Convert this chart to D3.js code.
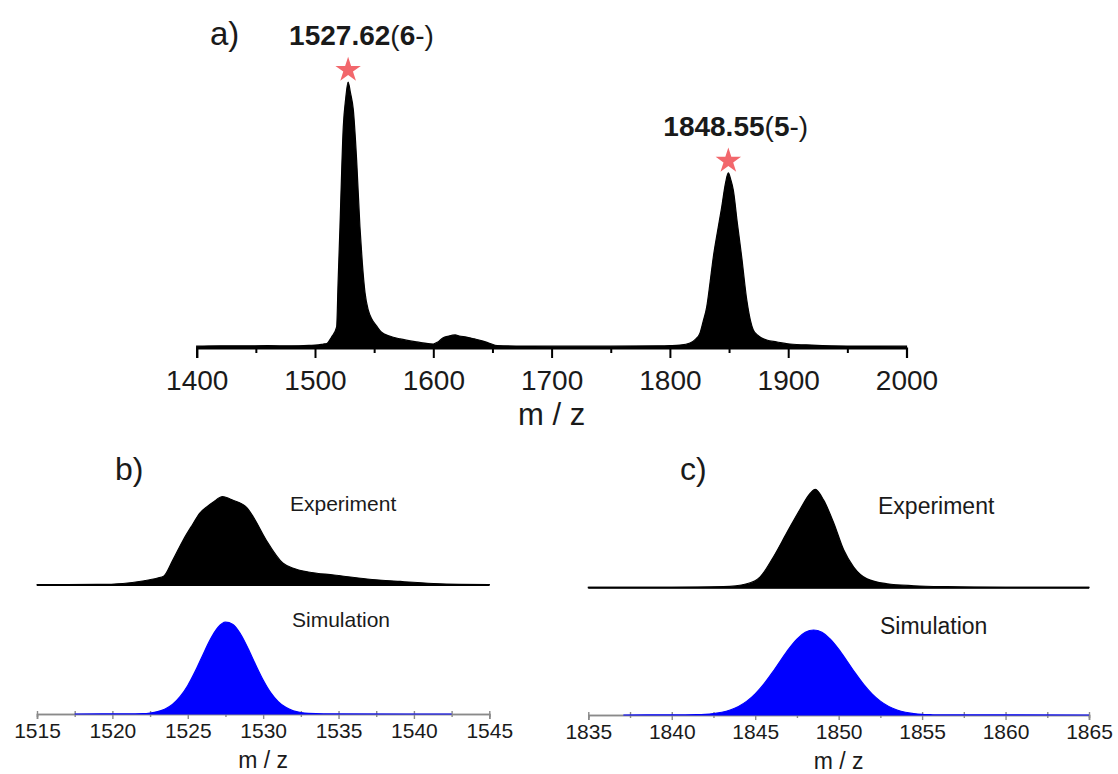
<!DOCTYPE html>
<html>
<head>
<meta charset="utf-8">
<script src="https://cdn.jsdelivr.net/npm/d3@7"></script>
<style>
  body { margin: 0; background: #fff; }
  svg text { font-family: "Liberation Sans", Arial, sans-serif; fill: #1a1a1a; }
</style>
</head>
<body>
<div id="chart"></div>
<script>
// a) full spectrum, [m/z, relative intensity %]
var fullSpec = [
  [1400,0.7],[1420,0.8],[1440,0.8],[1460,0.9],[1480,0.8],[1495,1.0],[1503,1.2],[1507,1.5],
  [1510,1.7],[1514,4.1],[1518.3,7.9],[1519.5,24.4],[1521.1,45.5],[1523.9,83.1],[1526,94],
  [1528,100],[1530,95.9],[1532.4,89.5],[1535.2,70.7],[1538,45.5],[1540,32],[1542.3,20.7],
  [1545,14.3],[1548,10.9],[1552,8.3],[1556,6.0],[1563,4.5],[1572,3.4],[1586,2.3],[1600,1.5],
  [1604,2.3],[1608,3.8],[1613,4.5],[1618.5,4.9],[1622,4.5],[1628,4.1],[1635,3.4],[1642,2.6],
  [1648,1.7],[1654,0.9],[1670,0.75],[1700,0.7],[1750,0.7],[1790,0.8],[1800,0.9],[1808.5,1.1],
  [1817,1.9],[1822,3.4],[1825.4,5.6],[1828,9.8],[1831.1,15.4],[1834,24.8],[1836.7,34.2],
  [1840,43.2],[1843.8,53.0],[1847,62],[1849.4,65.8],[1851.5,63.2],[1853.6,59.4],[1857,47],
  [1860.7,34.2],[1865,18],[1868,10.5],[1870.5,6.8],[1875,4.5],[1881.8,3.0],[1890,2.3],
  [1901.5,1.5],[1920,1.1],[1950,0.75],[2000,0.7]
];
var peakMz = [1528, 1849.4];
var peakInt = [100, 65.8];
var peakMass = ["1527.62", "1848.55"];
var peakCharge = ["6", "5"];
var fullTicks = [1400, 1500, 1600, 1700, 1800, 1900, 2000];
var fullMinor = [1450, 1550, 1650, 1750, 1850, 1950];

// b) 6- ion
var expB = [
  [1515,0.3],[1517,0.4],[1519,0.6],[1520.7,1.7],[1522,4.5],[1523,7.9],[1523.4,10],[1524,28],
  [1524.7,51],[1525.3,68],[1525.8,81.5],[1526.3,89],[1526.7,94],[1527.3,100],[1528,96],
  [1528.9,88],[1529.35,77],[1530.2,51],[1531.3,25],[1532,19],[1533,14.7],[1534.7,11.3],
  [1536.9,6.8],[1539.1,4],[1541.3,1.7],[1543,0.8],[1545,0.5]
];
var simB = [
  [1517.5,0],[1521,0.1],[1522,0.4],[1522.5,1.1],[1523,2.6],[1523.5,5.5],[1524,10.6],[1524.5,19.1],
  [1525,31],[1525.5,46.6],[1526,64.2],[1526.5,81.1],[1527,94],[1527.5,99.8],[1528,97.3],
  [1528.5,86.9],[1529,71.2],[1529.5,53.6],[1530,37],[1530.5,23.3],[1531,13.5],[1531.5,7.2],
  [1532,3.5],[1532.5,1.6],[1533,0.6],[1534,0.1],[1542.5,0]
];
var ticksB = [1515, 1520, 1525, 1530, 1535, 1540, 1545];
var minorB = [1517.5, 1522.5, 1527.5, 1532.5, 1537.5, 1542.5];

// c) 5- ion
var expC = [
  [1835,0.3],[1840,0.3],[1843.1,1],[1844.5,4],[1845.3,11],[1846.1,31.5],[1846.9,56],[1847.7,80],
  [1848.3,96],[1848.6,100],[1849.1,89],[1849.7,66],[1850.3,38.5],[1850.9,21],[1851.7,9],
  [1852.9,4],[1854.5,2],[1856.5,1],[1860,0.4],[1865,0.3]
];
var simC = [
  [1837.1,0],[1840,0.1],[1841.5,0.4],[1842,0.8],[1842.5,1.7],[1843,3.2],[1843.5,5.9],[1844,10.1],
  [1844.5,16.3],[1845,24.9],[1845.5,36],[1846,49.2],[1846.5,63.5],[1847,77.5],[1847.5,89.3],
  [1848,97.2],[1848.5,100],[1849,97.2],[1849.5,89.3],[1850,77.5],[1850.5,63.5],[1851,49.2],
  [1851.5,36],[1852,24.9],[1852.5,16.3],[1853,10.1],[1853.5,5.9],[1854,3.2],[1854.5,1.7],
  [1855,0.8],[1855.5,0.4],[1856,0.1],[1865,0]
];
var ticksC = [1835, 1840, 1845, 1850, 1855, 1860, 1865];
var minorC = [1837.5, 1842.5, 1847.5, 1852.5, 1857.5, 1862.5];

var width = 1118, height = 774;
var svg = d3.select("#chart").append("svg")
    .attr("width", width)
    .attr("height", height);

function spectrum(data, x, y, fill) {
    var area = d3.area()
        .x(function(d) { return x(d[0]); })
        .y0(y(0))
        .y1(function(d) { return y(d[1]); })
        .curve(d3.curveMonotoneX);
    svg.append("path")
        .datum(data)
        .attr("d", area)
        .attr("fill", fill)
        .attr("stroke", fill)
        .attr("stroke-width", 1.2);
}

// ---------- a) ----------
var xA = d3.scaleLinear().domain([1400, 2000]).range([196.7, 906.5]);
var yA = d3.scaleLinear().domain([0, 100]).range([348, 82]);

spectrum(fullSpec, xA, yA, "#000");

var axA = svg.append("g").attr("transform", "translate(0," + yA(0) + ")");
axA.call(d3.axisBottom(xA).tickValues(fullTicks).tickSize(10).tickPadding(12).tickFormat(d3.format("d")));
axA.append("g").call(d3.axisBottom(xA).tickValues(fullMinor).tickSize(5).tickFormat(""));
axA.selectAll("path.domain").attr("stroke", "#000").attr("stroke-width", 2.2);
axA.selectAll(".tick line").attr("stroke", "#000").attr("stroke-width", 2);
axA.selectAll(".tick text").style("font-size", "28px").attr("fill", "#1a1a1a");
axA.selectAll("g > g > path.domain").remove();

svg.append("text").attr("x", xA(1700)).attr("y", 425)
    .attr("text-anchor", "middle").style("font-size", "31px").text("m / z");
svg.append("text").attr("x", 210).attr("y", 45).style("font-size", "33px").text("a)");

var star = d3.symbol().type(d3.symbolStar).size(200);
peakMz.forEach(function(m, i) {
    svg.append("path")
        .attr("d", star)
        .attr("fill", "#f2676c")
        .attr("transform", "translate(" + xA(m) + "," + (yA(peakInt[i]) - 12) + ")");
    var t = svg.append("text")
        .attr("x", xA(m) - (i === 0 ? 59 : 65))
        .attr("y", yA(peakInt[i]) - 37)
        .style("font-size", "28px");
    t.append("tspan").style("font-weight", "bold").text(peakMass[i]);
    t.append("tspan").text("(");
    t.append("tspan").style("font-weight", "bold").text(peakCharge[i]);
    t.append("tspan").text("-)");
});

// ---------- b) and c) ----------
function zoomPanel(opt) {
    var x = d3.scaleLinear().domain(opt.domain).range(opt.range);
    var yE = d3.scaleLinear().domain([0, 100]).range(opt.expY);
    var yS = d3.scaleLinear().domain([0, 100]).range(opt.simY);

    // axis first, simulation drawn over it
    var ax = svg.append("g").attr("transform", "translate(0," + yS(0) + ")");
    ax.call(d3.axisBottom(x).tickValues(opt.ticks).tickSize(5).tickPadding(4).tickFormat(d3.format("d")));
    ax.append("g").call(d3.axisBottom(x).tickValues(opt.minor).tickSize(3).tickFormat(""));
    ax.selectAll("path.domain").attr("stroke", "#8a8a8a").attr("stroke-width", 1.6);
    ax.selectAll(".tick line").attr("stroke", "#8a8a8a").attr("stroke-width", 1.4).attr("y1", -3);
    ax.selectAll(".tick text").style("font-size", opt.tickFont + "px").attr("fill", "#1a1a1a");

    spectrum(opt.exp, x, yE, "#000");
    svg.append("line")
        .attr("x1", x(opt.domain[0])).attr("x2", x(opt.domain[1]))
        .attr("y1", yE(0)).attr("y2", yE(0))
        .attr("stroke", "#000").attr("stroke-width", 2);

    spectrum(opt.sim, x, yS, "#0000ff");

    svg.append("text").attr("x", opt.labelX).attr("y", opt.expY[0] - 74)
        .style("font-size", opt.textFont + "px").text("Experiment");
    svg.append("text").attr("x", opt.labelX + 2).attr("y", opt.simTextY)
        .style("font-size", opt.textFont + "px").text("Simulation");
    svg.append("text").attr("x", opt.tagX).attr("y", 480)
        .style("font-size", "32px").text(opt.tag);
    svg.append("text").attr("x", (opt.range[0] + opt.range[1]) / 2).attr("y", opt.mzY)
        .attr("text-anchor", "middle").style("font-size", "23px").text("m / z");
}

zoomPanel({
    domain: [1515, 1545], range: [37, 489.3],
    expY: [585, 496.7], simY: [714, 622],
    exp: expB, sim: simB, ticks: ticksB, minor: minorB,
    tickFont: 21, textFont: 21, labelX: 290, simTextY: 627,
    tag: "b)", tagX: 115, mzY: 768
});

zoomPanel({
    domain: [1835, 1865], range: [588.3, 1089],
    expY: [587.7, 489.3], simY: [715, 630],
    exp: expC, sim: simC, ticks: ticksC, minor: minorC,
    tickFont: 21, textFont: 23, labelX: 878, simTextY: 634,
    tag: "c)", tagX: 680, mzY: 769
});
</script>
</body>
</html>
